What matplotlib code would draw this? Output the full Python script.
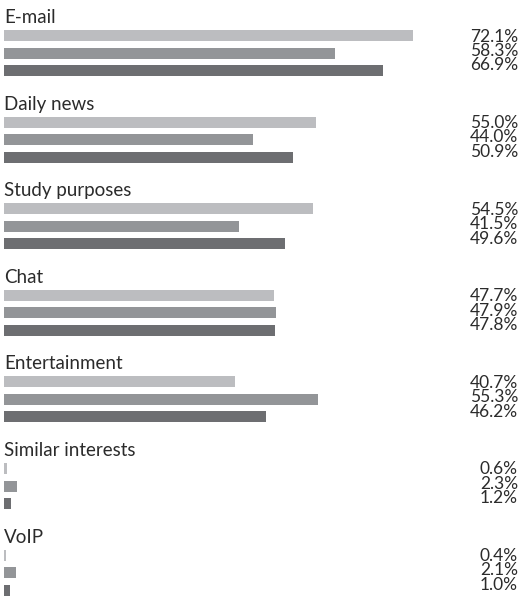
import matplotlib
matplotlib.use("Agg")
import matplotlib.pyplot as plt

# Share of respondents per internet use, three survey groups
categories = ["E-mail", "Daily news", "Study purposes", "Chat",
              "Entertainment", "Similar interests", "VoIP"]
series_a = [72.1, 55.0, 54.5, 47.7, 40.7, 0.6, 0.4]
series_b = [58.3, 44.0, 41.5, 47.9, 55.3, 2.3, 2.1]
series_c = [66.9, 50.9, 49.6, 47.8, 46.2, 1.2, 1.0]

colors = ["#bcbdc0", "#939598", "#6d6e71"]
text_color = "#2b2b2b"
font = ["Lato", "DejaVu Sans"]

W, H = 523, 599
fig = plt.figure(figsize=(W / 100, H / 100), dpi=100)
ax = fig.add_axes([0, 0, 1, 1])

# axes in pixel-like units: x in percent, y in pixels from top
px_per_pct = 5.67
x0 = 4
ax.set_xlim(-x0 / px_per_pct, (W - x0) / px_per_pct)
ax.set_ylim(H, 0)
ax.axis("off")

group_pitch = 86.6
bar_pitch = 17.5
bar_h = 11
first_center = 35.5
label_x = (518 - x0) / px_per_pct

for g, name in enumerate(categories):
    top = first_center + g * group_pitch
    vals = [series_a[g], series_b[g], series_c[g]]
    for j, v in enumerate(vals):
        ax.barh(top + j * bar_pitch, v, height=bar_h, color=colors[j],
                left=0, linewidth=0)
        ax.text(label_x, top + 6 + j * 14.4, f"{v:.1f}%", ha="right",
                va="baseline", fontsize=12.5, color=text_color,
                family=font)
    ax.text(0, top - 12.5, name, ha="left", va="baseline", fontsize=13.5,
            color=text_color, family=font)

fig.savefig("out.png", dpi=100)
